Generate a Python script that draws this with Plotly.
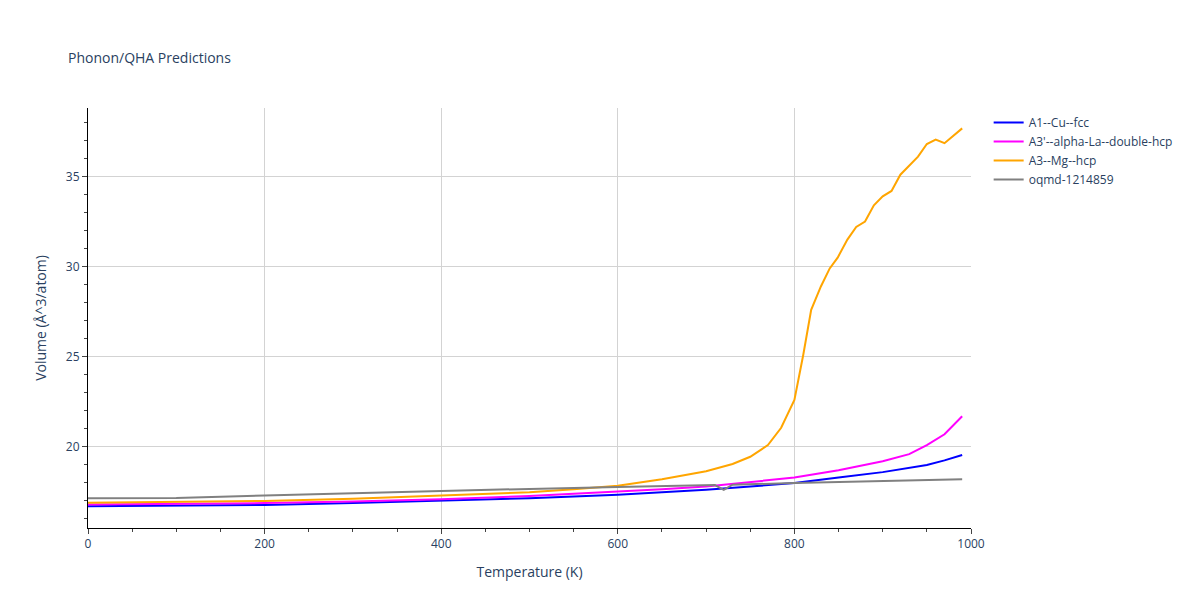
import plotly.graph_objects as go

t_cu = [0, 100, 200, 300, 400, 500, 600, 650, 700, 750, 800, 850, 900, 950, 970, 990]
v_cu = [16.7, 16.72, 16.78, 16.88, 17.0, 17.15, 17.35, 17.48, 17.62, 17.8, 18.0, 18.3, 18.6, 19.0, 19.25, 19.55]

t_la = [0, 100, 200, 300, 400, 500, 600, 650, 700, 750, 800, 850, 900, 930, 950, 970, 980, 990]
v_la = [16.8, 16.82, 16.88, 16.97, 17.1, 17.28, 17.5, 17.65, 17.8, 18.05, 18.3, 18.7, 19.2, 19.6, 20.1, 20.7, 21.2, 21.7]

t_mg = [0, 100, 200, 300, 400, 500, 550, 600, 650, 700, 730, 750, 770, 785, 800, 810, 819, 830, 840,
        849, 860, 870, 880, 890, 900, 910, 920, 930, 940, 950, 960, 970, 990]
v_mg = [16.9, 16.93, 17.0, 17.12, 17.28, 17.48, 17.65, 17.85, 18.2, 18.65, 19.05, 19.45, 20.1, 21.06, 22.6, 25.1,
        27.6, 28.9, 29.9, 30.5, 31.5, 32.2, 32.5, 33.4, 33.9, 34.2, 35.1, 35.6, 36.1, 36.8, 37.05, 36.85, 37.67]

t_oq = [0, 100, 200, 300, 400, 500, 600, 700, 710, 720, 730, 800, 900, 990]
v_oq = [17.15, 17.17, 17.3, 17.43, 17.55, 17.67, 17.77, 17.87, 17.88, 17.62, 17.9, 18.0, 18.1, 18.2]

series = [
    ("A1--Cu--fcc", t_cu, v_cu, "blue"),
    ("A3'--alpha-La--double-hcp", t_la, v_la, "magenta"),
    ("A3--Mg--hcp", t_mg, v_mg, "orange"),
    ("oqmd-1214859", t_oq, v_oq, "grey"),
]

fig = go.Figure()
for name, t, v, c in series:
    fig.add_trace(go.Scatter(x=t, y=v, mode="lines", name=name, line=dict(color=c, width=2)))

fig.update_layout(
    title=dict(text="Phonon/QHA Predictions", font=dict(size=14), x=0.05, y=0.925),
    width=1200, height=600,
    margin=dict(l=80, r=237, t=100, b=80),
    plot_bgcolor="white",
    xaxis=dict(title="Temperature (K)", range=[0, 1000], showgrid=True, gridcolor="lightgrey",
               showline=True, linecolor="black", ticks="outside", minor=dict(ticks="outside", dtick=50)),
    yaxis=dict(title="Volume (Å^3/atom)", range=[15.5, 38.8], showgrid=True, gridcolor="lightgrey",
               showline=True, linecolor="black", ticks="outside", dtick=5, minor=dict(ticks="outside", dtick=1)),
)
fig.write_html("out.html")
